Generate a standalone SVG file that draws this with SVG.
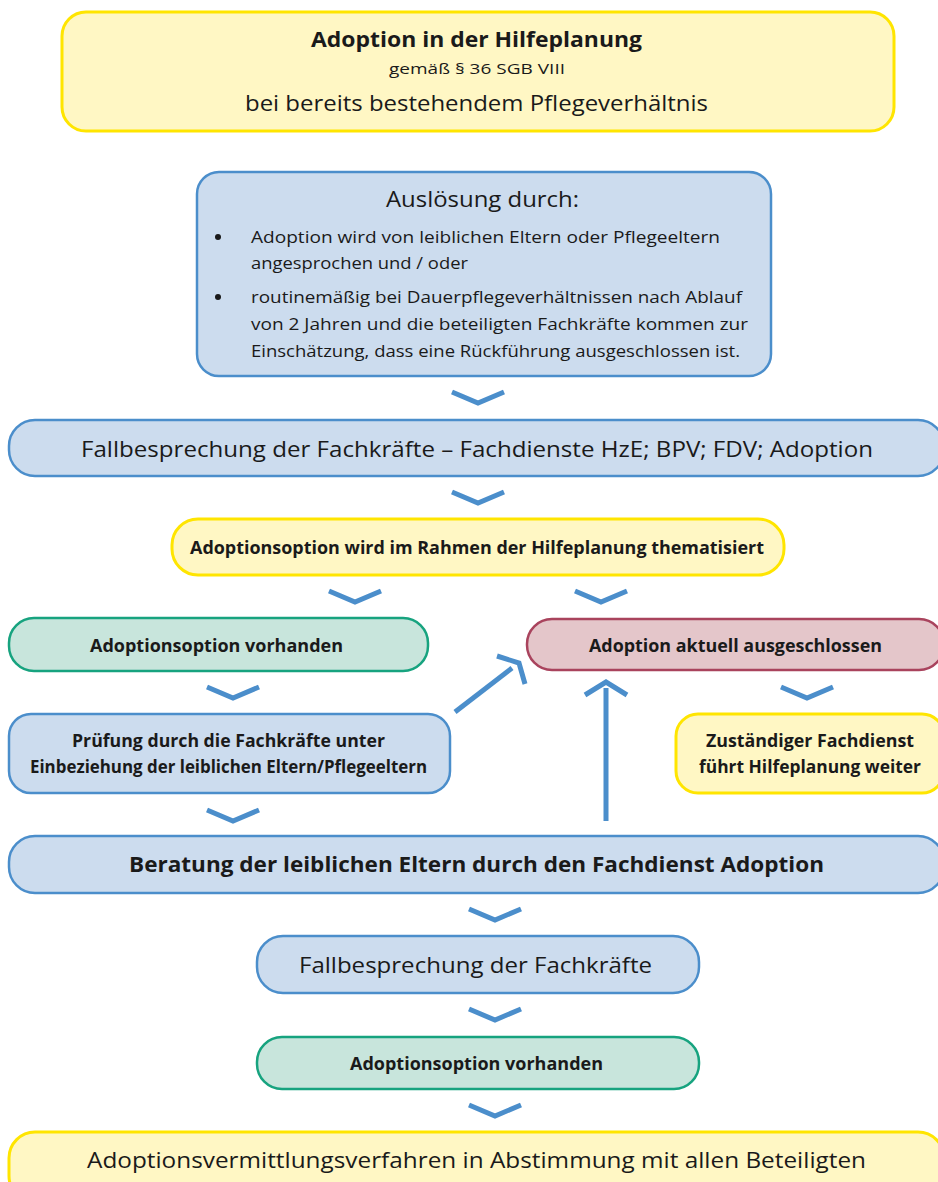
<svg xmlns="http://www.w3.org/2000/svg" width="938" height="1182" viewBox="0 0 938 1182">
<style>
text{font-family:"Open Sans","Noto Sans","Liberation Sans",sans-serif;fill:#1a1a1a}
.c{text-anchor:middle}
.b{font-weight:700}
.yel{fill:#fff7c4;stroke:#ffe500;stroke-width:3}
.blu{fill:#ccdcee;stroke:#4b8ecb;stroke-width:2.5}
.grn{fill:#c8e5dc;stroke:#17a37f;stroke-width:2.5}
.red{fill:#e4c6ca;stroke:#a9435d;stroke-width:2.5}
.chev{fill:none;stroke:#4b8ecb;stroke-width:5;stroke-linejoin:miter;stroke-linecap:butt}
.ln{fill:none;stroke:#4b8ecb;stroke-width:5}
</style>
<rect width="938" height="1182" fill="#ffffff"/>
<g id="connectors">
<path class="chev" d="M452,392 L478,403 L504,392"/>
<path class="chev" d="M452,492 L478,503 L504,492"/>
<path class="chev" d="M329,591 L355,602 L381,591"/>
<path class="chev" d="M575,591 L601,602 L627,591"/>
<path class="chev" d="M207,687 L233,698 L259,687"/>
<path class="chev" d="M781,687 L807,698 L833,687"/>
<path class="chev" d="M207,810 L233,821 L259,810"/>
<path class="chev" d="M469,909 L495,920 L521,909"/>
<path class="chev" d="M469,1009 L495,1020 L521,1009"/>
<path class="chev" d="M469,1105 L495,1116 L521,1105"/>
<line class="ln" x1="455" y1="712" x2="512" y2="668"/>
<path class="chev" d="M497,656 L519,663 L525,684"/>
<line class="ln" x1="606" y1="821" x2="606" y2="688"/>
<path class="chev" d="M585,695 L606,682 L627,695"/>
</g>
<g id="n-title">
<rect class="yel" x="62" y="12" width="832" height="119" rx="24"/>
<text class="c b" x="476.5" y="47" font-size="21" textLength="331" lengthAdjust="spacingAndGlyphs">Adoption in der Hilfeplanung</text>
<text class="c" x="477" y="74" font-size="15" textLength="176" lengthAdjust="spacingAndGlyphs">gemäß § 36 SGB VIII</text>
<text class="c" x="476.5" y="111" font-size="22" textLength="463" lengthAdjust="spacingAndGlyphs">bei bereits bestehendem Pflegeverhältnis</text>
</g>
<g id="n-ausloesung">
<rect class="blu" x="197" y="172" width="574" height="204" rx="22"/>
<text class="c" x="482.5" y="207" font-size="22" textLength="193" lengthAdjust="spacingAndGlyphs">Auslösung durch:</text>
<circle cx="218" cy="237" r="3" fill="#1a1a1a"/>
<circle cx="218" cy="297" r="3" fill="#1a1a1a"/>
<text x="251" y="243" font-size="17" textLength="469" lengthAdjust="spacingAndGlyphs">Adoption wird von leiblichen Eltern oder Pflegeeltern</text>
<text x="251" y="269" font-size="17" textLength="217" lengthAdjust="spacingAndGlyphs">angesprochen und / oder</text>
<text x="251" y="303" font-size="17" textLength="491" lengthAdjust="spacingAndGlyphs">routinemäßig bei Dauerpflegeverhältnissen nach Ablauf</text>
<text x="251" y="330" font-size="17" textLength="497" lengthAdjust="spacingAndGlyphs">von 2 Jahren und die beteiligten Fachkräfte kommen zur</text>
<text x="251" y="357" font-size="17" textLength="489" lengthAdjust="spacingAndGlyphs">Einschätzung, dass eine Rückführung ausgeschlossen ist.</text>
</g>
<g id="n-fallbesprechung1">
<rect class="blu" x="9" y="420" width="935" height="56" rx="26"/>
<text class="c" x="477" y="457" font-size="22" textLength="792" lengthAdjust="spacingAndGlyphs">Fallbesprechung der Fachkräfte – Fachdienste HzE; BPV; FDV; Adoption</text>
</g>
<g id="n-thematisiert">
<rect class="yel" x="172" y="519" width="612" height="56" rx="26"/>
<text class="c b" x="477" y="554" font-size="17" textLength="574" lengthAdjust="spacingAndGlyphs">Adoptionsoption wird im Rahmen der Hilfeplanung thematisiert</text>
</g>
<g id="n-option1">
<rect class="grn" x="9" y="618" width="419" height="53" rx="25"/>
<text class="c b" x="216.5" y="652" font-size="17" textLength="253" lengthAdjust="spacingAndGlyphs">Adoptionsoption vorhanden</text>
</g>
<g id="n-ausgeschlossen">
<rect class="red" x="527" y="619" width="417" height="51" rx="25"/>
<text class="c b" x="735.5" y="652" font-size="17" textLength="293" lengthAdjust="spacingAndGlyphs">Adoption aktuell ausgeschlossen</text>
</g>
<g id="n-pruefung">
<rect class="blu" x="9" y="714" width="441" height="79" rx="22"/>
<text class="c b" x="228.5" y="747" font-size="17" textLength="313" lengthAdjust="spacingAndGlyphs">Prüfung durch die Fachkräfte unter</text>
<text class="c b" x="228.5" y="773" font-size="17" textLength="397" lengthAdjust="spacingAndGlyphs">Einbeziehung der leiblichen Eltern/Pflegeeltern</text>
</g>
<g id="n-zustaendig">
<rect class="yel" x="676" y="714" width="268" height="79" rx="22"/>
<text class="c b" x="810" y="747" font-size="17" textLength="208" lengthAdjust="spacingAndGlyphs">Zuständiger Fachdienst</text>
<text class="c b" x="810" y="773" font-size="17" textLength="222" lengthAdjust="spacingAndGlyphs">führt Hilfeplanung weiter</text>
</g>
<g id="n-beratung">
<rect class="blu" x="9" y="836" width="935" height="57" rx="26"/>
<text class="c b" x="476.5" y="872" font-size="22" textLength="695" lengthAdjust="spacingAndGlyphs">Beratung der leiblichen Eltern durch den Fachdienst Adoption</text>
</g>
<g id="n-fallbesprechung2">
<rect class="blu" x="257" y="936" width="442" height="57" rx="26"/>
<text class="c" x="475.5" y="973" font-size="22" textLength="353" lengthAdjust="spacingAndGlyphs">Fallbesprechung der Fachkräfte</text>
</g>
<g id="n-option2">
<rect class="grn" x="257" y="1037" width="442" height="52" rx="25"/>
<text class="c b" x="476.5" y="1070" font-size="17" textLength="253" lengthAdjust="spacingAndGlyphs">Adoptionsoption vorhanden</text>
</g>
<g id="n-vermittlung">
<rect class="yel" x="9" y="1132" width="935" height="70" rx="26"/>
<text class="c" x="476.5" y="1168" font-size="22" textLength="779" lengthAdjust="spacingAndGlyphs">Adoptionsvermittlungsverfahren in Abstimmung mit allen Beteiligten</text>
</g>
</svg>
